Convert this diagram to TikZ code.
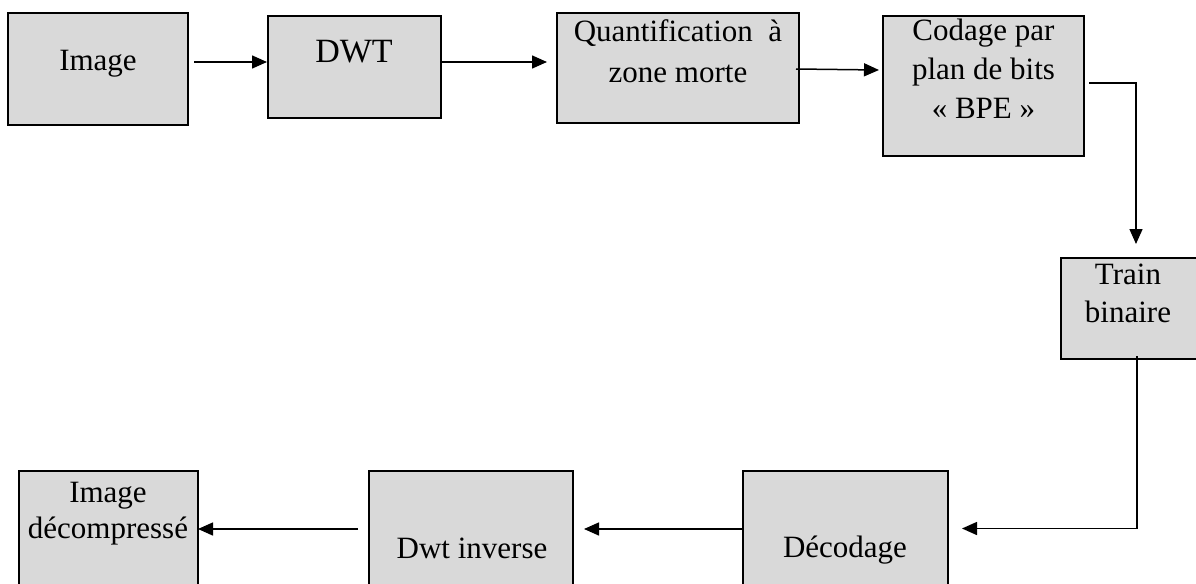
\documentclass[tikz,border=0pt]{standalone}
\usepackage{fontspec}
\setmainfont{Liberation Serif}
\usetikzlibrary{arrows.meta,calc}
\definecolor{boxgray}{RGB}{217,217,217}
% centred lines of text whose baseline is the first line's baseline
\newcommand\blocklines[2]{{\fontsize{15.5}{#1}\selectfont\setlength\tabcolsep{0pt}\begin{tabular}[t]{c}#2\end{tabular}}}
\begin{document}
\begin{tikzpicture}[x=0.5pt,y=-0.5pt,
  block/.style={draw=black,line width=1pt,fill=boxgray,inner sep=0pt},
  txt/.style={anchor=base,inner sep=0pt,font=\fontsize{15.5}{19}\selectfont},
  flow/.style={line width=0.75pt,-{Triangle[length=7.5pt,width=6.5pt]}}]
\useasboundingbox (0,0) rectangle (1196,584);
\clip (0,0) rectangle (1196,584);

% compression chain
\node[block,minimum width=90pt,minimum height=56pt] (img) at (98,69) {};
\node[block,minimum width=86.5pt,minimum height=51pt] (dwt) at (354.5,67) {};
\node[block,minimum width=121pt,minimum height=55pt] (qz) at (678,68) {};
\node[block,minimum width=100.5pt,minimum height=70pt] (bpe) at (983.5,86) {};
\node[block,minimum width=69.5pt,minimum height=50.5pt] (train) at (1130.5,308.5) {};

% decompression chain
\node[block,minimum width=102.5pt,minimum height=69.5pt] (dec) at (845.5,540.5) {};
\node[block,minimum width=102pt,minimum height=69.5pt] (idwt) at (471,540.5) {};
\node[block,minimum width=89.5pt,minimum height=69.5pt] (out) at (108.5,540.5) {};

% block captions
\node[txt] (timg) at (98,70) {Image};
\node[txt,font=\fontsize{17}{20}\selectfont] (tdwt) at (354,62) {DWT};
\node[txt] (tqz) at (678,41) {\blocklines{20.5pt}{Quantification\ \ à\\zone morte}};
\node[txt] (tbpe) at (983.5,40) {\blocklines{19.5pt}{Codage par\\plan de bits\\«~BPE~»}};
\node[txt] (ttrain) at (1128,284) {\blocklines{19pt}{Train\\binaire}};
\node[txt] (tdec) at (845,557) {Décodage};
\node[txt] (tidwt) at (472,558) {Dwt inverse};
\node[txt] (tout) at (108,502) {\blocklines{18pt}{Image\\décompressé}};

% connectors
\draw[flow] ($(img.east)+(5,-7)$) -- ($(dwt.west)+(0,-5)$);
\draw[flow] ($(dwt.east)+(0,-5)$) -- ($(qz.west)+(-9,-6)$);
\draw[flow] ($(qz.east)+(-4,1)$) -- ($(bpe.west)+(-3,-16)$);
\draw[flow] ($(bpe.east)+(4,-3)$) -| ($(train.north)+(5.5,-13)$);
\draw[flow] ($(train.south)+(6.5,-4)$) |- ($(dec.east)+(13,-12)$);
\draw[flow] ($(dec.west)+(0,-11.5)$) -- ($(idwt.east)+(10,-11.5)$);
\draw[flow] ($(idwt.west)+(-10,-11.5)$) -- ($(out.east)+(-1,-11.5)$);
\end{tikzpicture}
\end{document}
